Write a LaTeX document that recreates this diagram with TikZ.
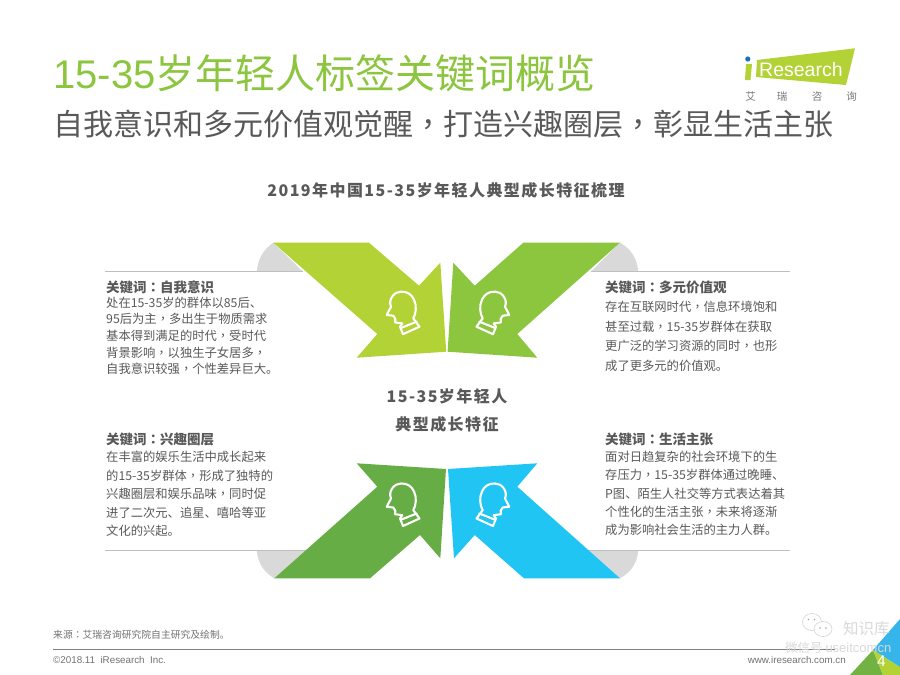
\documentclass[tikz,border=0pt]{standalone}
\usepackage{fontspec}
\setmainfont{Noto Sans CJK SC}
\newfontfamily\latinfont{Liberation Sans}
\newfontfamily\tcf{Noto Sans CJK TC}
\newcommand{\zc}{{\tcf ，}}
\newcommand{\zm}{{\tcf ：}}
\definecolor{ttl}{HTML}{8CC63F}
\definecolor{txt}{HTML}{595959}
\definecolor{cTL}{HTML}{B2D235}
\definecolor{cTR}{HTML}{8CC63F}
\definecolor{cBL}{HTML}{67AD45}
\definecolor{cBR}{HTML}{21C5F3}
\definecolor{cCorner}{HTML}{35B5EA}
\definecolor{cDot}{HTML}{1F6FC0}
\definecolor{gry}{HTML}{D9D9D9}
\definecolor{rul}{HTML}{BFBFBF}
\tikzset{
 x=1pt,y=-1pt,
 kw/.style={anchor=west,inner sep=0pt,text=txt,font=\fontsize{13.5}{15}\selectfont\bfseries},
 body/.style={anchor=north west,inner sep=0pt,align=left,text=txt},
 headline/.style={draw=white,line width=2.1pt,line join=round,line cap=round,fill=none},
 centre/.style={inner sep=0pt,text=txt,font=\fontsize{16}{18}\selectfont\bfseries\addfontfeature{LetterSpace=9}},
 foot/.style={inner sep=0pt,text=txt!85,font=\latinfont\fontsize{9.8}{11}\selectfont},
 wechat/.style={fill=white,draw=gry,line width=.7pt},
}
\newcommand{\headicon}[3]{% x y xscale
 \begin{scope}[shift={(#1,#2)},xscale=#3]
  \draw[headline] (-1,-20) .. controls (5,-20.5) and (10,-17) .. (12,-12)
    .. controls (15,-6) and (14,2) .. (11.3,6.7) -- (17.5,15) -- (1,22.5) -- (-2,15) -- (0.3,11.7) -- (-7,10.7)
    .. controls (-5.5,8) and (-7,6.5) .. (-8.7,4) -- (-15.3,3.3) -- (-11,-5)
    .. controls (-12.5,-9) and (-12,-12) .. (-9.5,-15.5) .. controls (-7.5,-18.5) and (-4,-20) .. (-1,-20) -- cycle;
  \draw[headline] (-0.5,16) -- (14.7,10);
 \end{scope}}
\begin{document}
\begin{tikzpicture}
\useasboundingbox (0,0) rectangle (900,675);
\fill[white] (0,0) rectangle (900,675);
% corner
\fill[cCorner] (900,619) -- (900,667) -- (873,650) -- cycle;
\fill[cBL!85!cTL] (873,650) -- (883,675) -- (850,675) -- cycle;
\fill[cTL] (873,650) -- (900,667) -- (900,675) -- (883,675) -- cycle;
% titles
\node[anchor=base west,inner sep=0pt,text=ttl,font=\fontsize{40}{44}\selectfont] (title) at (53,88) {{\latinfont 15-35}岁年轻人标签关键词概览};
\node[anchor=west,inner sep=0pt,text=txt,font=\fontsize{30}{34}\selectfont] (sub) at (53,124) {自我意识和多元价值观觉醒\zc 打造兴趣圈层\zc 彰显生活主张};
\node[anchor=center,inner sep=0pt,text=txt,font=\fontsize{16}{18}\selectfont\bfseries\addfontfeature{LetterSpace=9}] (head) at (446,190) {2019年中国15-35岁年轻人典型成长特征梳理};
% logo
\fill[cTL] (757,60) -- (855,48.3) -- (846,85) -- (756,77) -- cycle;
\fill[cDot] (747.8,59) circle (2.6);
\fill[cTL] (746,64) -- (752,64) -- (750.5,80) -- (745,80) -- cycle;
\node[anchor=west,inner sep=0pt,text=white,font=\latinfont\fontsize{19.5}{22}\selectfont] (logo) at (759,69.5) {Research};
\foreach \c/\x/\n in {艾/750.5/la,瑞/782/lb,咨/817/lc,询/851.5/ld}
  \node[anchor=base,inner sep=0pt,text=txt!80,font=\fontsize{10.5}{12}\selectfont] (\n) at (\x,100) {\c};
% grey segments
\fill[gry] (256.7,271.7) .. controls (258,258) and (264,249) .. (273.3,242.7) -- (303,271.7) -- cycle;
\fill[gry] (638.3,271.7) .. controls (637,258) and (631,249) .. (620,242.7) -- (591,271.7) -- cycle;
\fill[gry] (256.7,550) .. controls (258,564) and (264,572) .. (274.3,578.3) -- (306,550) -- cycle;
\fill[gry] (638.3,550) .. controls (637,564) and (631,572) .. (620,578.3) -- (588,550) -- cycle;
\draw[rul,line width=1pt] (105,271.7) -- (303,271.7) (591,271.7) -- (790,271.7);
\draw[rul,line width=1pt] (105,550) -- (306,550) (588,550) -- (790,550);
% arrows
\fill[cTL] (273.3,242.7) -- (369,242.7) -- (419,285.7) -- (440.3,262.7) -- (446.2,351.7) -- (356.7,357.7) -- (377.3,334) -- cycle;
\fill[cTR] (620,242.7) -- (523.3,242.7) -- (474.7,285.7) -- (453.3,262.7) -- (447.6,351.7) -- (537.3,357.7) -- (517.3,334) -- cycle;
\fill[cBL] (356.7,463.3) -- (446,469) -- (440.3,558.3) -- (420,535) -- (370,578.3) -- (274.3,578.3) -- (377.3,486.7) -- cycle;
\fill[cBR] (537.3,463.3) -- (448,469) -- (454,558.3) -- (474.7,535) -- (524,578.3) -- (620,578.3) -- (517.3,486.7) -- cycle;
\headicon{402}{311.7}{1}
\headicon{494}{311.7}{-1}
\headicon{402}{503.5}{1}
\headicon{494}{503.5}{-1}
% left/right text
\node[kw] (k1) at (106,287) {关键词\zm 自我意识};
\node[body,font=\fontsize{12.3}{16.7}\selectfont] (b1) at (106,296.5) {处在15-35岁的群体以85后、\\95后为主\zc 多出生于物质需求\\基本得到满足的时代\zc 受时代\\背景影响\zc 以独生子女居多\zc\\自我意识较强\zc 个性差异巨大。};
\node[kw] (k2) at (605,287) {关键词\zm 多元价值观};
\node[body,font=\fontsize{12.3}{19.6}\selectfont] (b2) at (605,301) {存在互联网时代\zc 信息环境饱和\\甚至过载\zc 15-35岁群体在获取\\更广泛的学习资源的同时\zc 也形\\成了更多元的价值观。};
\node[kw] (k3) at (106,439) {关键词\zm 兴趣圈层};
\node[body,font=\fontsize{12.3}{18.5}\selectfont] (b3) at (106,451) {在丰富的娱乐生活中成长起来\\的15-35岁群体\zc 形成了独特的\\兴趣圈层和娱乐品味\zc 同时促\\进了二次元、追星、嘻哈等亚\\文化的兴起。};
\node[kw] (k4) at (605,439) {关键词\zm 生活主张};
\node[body,font=\fontsize{12.3}{18.3}\selectfont] (b4) at (605,451) {面对日趋复杂的社会环境下的生\\存压力\zc 15-35岁群体通过晚睡、\\P图、陌生人社交等方式表达着其\\个性化的生活主张\zc 未来将逐渐\\成为影响社会生活的主力人群。};
% centre
\node[centre] (c1) at (447,396) {15-35岁年轻人};
\node[centre] (c2) at (447,424) {典型成长特征};
% footer
\node[anchor=west,inner sep=0pt,text=txt!85,font=\fontsize{9.8}{11}\selectfont] (src) at (53,634.5) {来源\zm 艾瑞咨询研究院自主研究及绘制。};
\coordinate (la1) at (53,649.5);
\coordinate (la2) at (835,649.5);
\draw[gray,line width=1pt] (la1) -- (la2);
\node[foot,anchor=west] (cp) at (53,660) {©2018.11\ \ iResearch\ \ Inc.};
\node[foot,anchor=east] (web) at (846,660) {www.iresearch.com.cn};
\node[inner sep=0pt,text=white,font=\latinfont\fontsize{15.5}{17}\selectfont] (pg) at (881.5,661) {4};
% watermark
\draw[wechat] (812,622) ellipse (9.5 and 8.5);
\draw[wechat] (823,629) ellipse (9 and 7.5);
\fill[gray!70] (808.5,619.5) circle (.9) (814.5,619.5) circle (.9) (820,628) circle (.9) (826,628) circle (.9);
\node[anchor=base west,inner sep=0pt,text=gry,font=\fontsize{15.5}{17}\selectfont] (wm1) at (843,634) {知识库};
\node[anchor=base west,inner sep=0pt,text=gry,font=\fontsize{12.5}{14}\selectfont] (wm2) at (785,652) {微信号 {\latinfont\fontsize{13}{14}\selectfont useitcomcn}};
\end{tikzpicture}
\end{document}
